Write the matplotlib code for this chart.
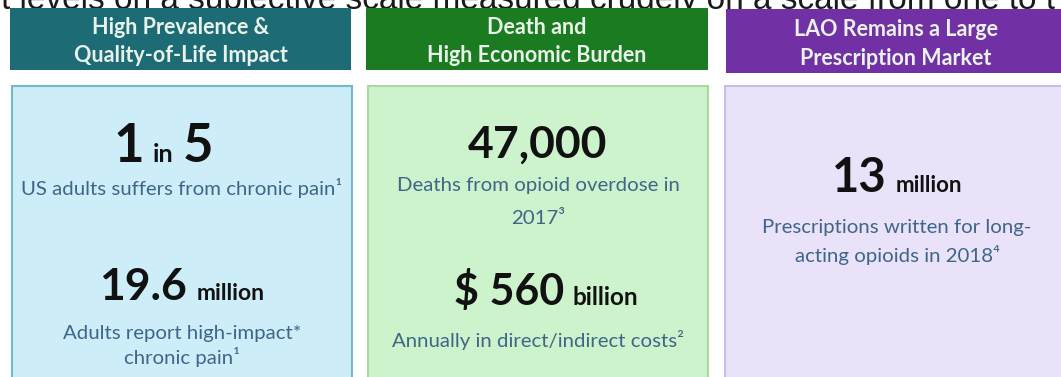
import matplotlib
matplotlib.use("Agg")
import matplotlib.pyplot as plt
from matplotlib.patches import Rectangle

W, H = 1061, 377

# ---- contenu ----
top_line = "t levels on a subjective scale measured crudely on a scale from one to t"

header_titles = [
    ["High Prevalence &", "Quality-of-Life Impact"],
    ["Death and", "High Economic Burden"],
    ["LAO Remains a Large", "Prescription Market"],
]

# tokens alternent gros / petit
stat_tokens = [
    ["1", "in", "5"],
    ["19.6", "million"],
    ["47,000"],
    ["$ 560", "billion"],
    ["13", "million"],
]

captions = [
    ["US adults suffers from chronic pain¹"],
    ["Adults report high-impact*", "chronic pain¹"],
    ["Deaths from opioid overdose in", "2017³"],
    ["Annually in direct/indirect costs²"],
    ["Prescriptions written for long-", "acting opioids in 2018⁴"],
]

# ---- mise en page (pixels) ----
header_boxes = [(10, 8, 341, 62), (366, 8, 342, 62), (726, 9, 340, 64)]
header_colors = ["#1d6b74", "#1a7b20", "#7130a3"]
panel_boxes = [(12, 86, 340, 300), (368, 86, 340, 300), (725, 86, 340, 300)]
panel_fill = ["#cdeef8", "#cdf3cd", "#e9e2f8"]
panel_edge = ["#74b9c6", "#a9d99e", "#c9bde3"]

stat_x = [163, 182, 537, 546, 897]
stat_base = [162, 300, 158, 305, 192]
stat_big = [38, 32, 32, 31, 34]
stat_small = [18, 16.5, 16, 17.5, 16]
cap_y = [[188], [333, 357], [186, 218], [340], [228, 255]]
cap_x = [182, 182, 538, 538, 897]

FONT = ["Lato", "DejaVu Sans"]
CAP_COLOR = "#3f6688"

fig = plt.figure(figsize=(W / 100, H / 100), dpi=100)
ax = fig.add_axes([0, 0, 1, 1])
ax.set_xlim(0, W)
ax.set_ylim(H, 0)
ax.axis("off")

ax.text(528, 9, top_line, ha="center", va="baseline", fontsize=24,
        family="Liberation Sans", color="#1a1a1a", zorder=0)

for (x, y, w, h), c, lines in zip(header_boxes, header_colors, header_titles):
    ax.add_patch(Rectangle((x, y), w, h, facecolor=c, edgecolor="none", zorder=2))
    cx = x + w / 2
    ax.text(cx, y + h * 0.32, lines[0], ha="center", va="center", fontsize=15.5,
            fontweight="bold", family=FONT, color="#e8f2ea", zorder=3)
    ax.text(cx, y + h * 0.77, lines[1], ha="center", va="center", fontsize=15.5,
            fontweight="bold", family=FONT, color="#e8f2ea", zorder=3)

for (x, y, w, h), fc, ec in zip(panel_boxes, panel_fill, panel_edge):
    ax.add_patch(Rectangle((x, y), w, h, facecolor=fc, edgecolor=ec,
                           linewidth=1.5, zorder=2))

fig.canvas.draw()
renderer = fig.canvas.get_renderer()

for i, tokens in enumerate(stat_tokens):
    pieces = []
    for j, tok in enumerate(tokens):
        size = stat_big[i] if j % 2 == 0 else stat_small[i]
        t = ax.text(0, stat_base[i], tok, ha="left", va="baseline", fontsize=size,
                    fontweight="bold", family=FONT, color="#111111", zorder=3)
        pieces.append(t)
    gap = 9
    widths = [p.get_window_extent(renderer).width for p in pieces]
    total = sum(widths) + gap * (len(pieces) - 1)
    cur = stat_x[i] - total / 2
    for p, wd in zip(pieces, widths):
        p.set_x(cur)
        cur += wd + gap

for i, lines in enumerate(captions):
    for line, yy in zip(lines, cap_y[i]):
        ax.text(cap_x[i], yy, line, ha="center", va="center", fontsize=14.7,
                family=FONT, color=CAP_COLOR, zorder=3)

fig.savefig("out.png", dpi=100)
